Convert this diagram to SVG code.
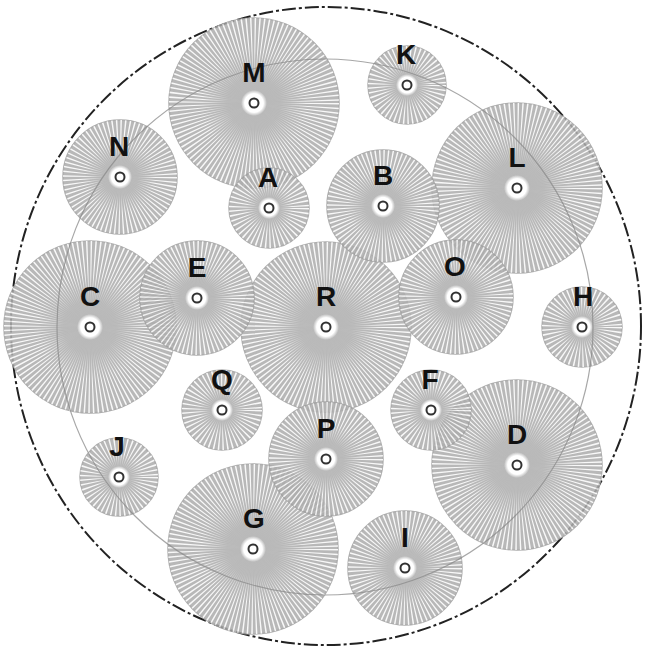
<svg xmlns="http://www.w3.org/2000/svg" width="646" height="647" viewBox="0 0 646 647">
<style>
.node{opacity:0.86}
.disk{fill:#adadad;stroke:#a0a0a0;stroke-width:1.5}
.rays{fill:none;stroke:#ffffff;stroke-opacity:0.9}
.r85{stroke-dasharray:0.83 1.6945}
.r86{stroke-dasharray:0.84 1.7125}
.r57{stroke-dasharray:0.85 1.7129}
.r56{stroke-dasharray:0.83 1.6915}
.r40{stroke-dasharray:0.93 1.8974}
.r39{stroke-dasharray:0.91 1.8546}
.hub{fill:url(#hubg)}
.ring{fill:none;stroke:#111;stroke-width:2}
.lbl{font-family:"Liberation Sans",Arial,Helvetica,sans-serif;font-weight:bold;font-size:28px;fill:#111;text-anchor:middle}
.outer{fill:none;stroke:#222;stroke-width:2;stroke-dasharray:14 3 3 3}
.inner{fill:none;stroke:#8a8a8a;stroke-width:1.2;opacity:0.75}
</style>
<defs>
<radialGradient id="hubg">
<stop offset="0" stop-color="#adadad" stop-opacity="1"/>
<stop offset="0.5" stop-color="#adadad" stop-opacity="0.9"/>
<stop offset="1" stop-color="#adadad" stop-opacity="0"/>
</radialGradient>
<radialGradient id="holeg">
<stop offset="0" stop-color="#fff" stop-opacity="1"/>
<stop offset="0.72" stop-color="#fff" stop-opacity="1"/>
<stop offset="1" stop-color="#fff" stop-opacity="0"/>
</radialGradient>
</defs>
<rect width="646" height="647" fill="#ffffff"/>
<g id="frame">
<ellipse class="outer" cx="326" cy="326" rx="315" ry="319"/>
</g>
<g id="node-M" class="node" transform="translate(254,103)">
<circle class="disk" r="85"/><circle class="rays r85" r="45" stroke-width="80"/><circle class="hub" r="52"/><circle r="13" fill="url(#holeg)"/><circle class="ring" r="4.5"/></g>
<g id="node-L" class="node" transform="translate(517,188)">
<circle class="disk" r="85"/><circle class="rays r85" r="45" stroke-width="80"/><circle class="hub" r="52"/><circle r="13" fill="url(#holeg)"/><circle class="ring" r="4.5"/></g>
<g id="node-C" class="node" transform="translate(90,327)">
<circle class="disk" r="86"/><circle class="rays r86" r="45.5" stroke-width="81"/><circle class="hub" r="52"/><circle r="13" fill="url(#holeg)"/><circle class="ring" r="4.5"/></g>
<g id="node-D" class="node" transform="translate(517,465)">
<circle class="disk" r="85"/><circle class="rays r85" r="45" stroke-width="80"/><circle class="hub" r="52"/><circle r="13" fill="url(#holeg)"/><circle class="ring" r="4.5"/></g>
<g id="node-G" class="node" transform="translate(253,549)">
<circle class="disk" r="85"/><circle class="rays r85" r="45" stroke-width="80"/><circle class="hub" r="52"/><circle r="13" fill="url(#holeg)"/><circle class="ring" r="4.5"/></g>
<g id="node-R" class="node" transform="translate(326,327)">
<circle class="disk" r="85"/><circle class="rays r85" r="45" stroke-width="80"/><circle class="hub" r="52"/><circle r="13" fill="url(#holeg)"/><circle class="ring" r="4.5"/></g>
<g id="node-N" class="node" transform="translate(120,177)">
<circle class="disk" r="57"/><circle class="rays r57" r="31" stroke-width="52"/><circle class="hub" r="35"/><circle r="12" fill="url(#holeg)"/><circle class="ring" r="4.5"/></g>
<g id="node-B" class="node" transform="translate(383,206)">
<circle class="disk" r="56"/><circle class="rays r56" r="30.5" stroke-width="51"/><circle class="hub" r="35"/><circle r="12" fill="url(#holeg)"/><circle class="ring" r="4.5"/></g>
<g id="node-E" class="node" transform="translate(197,298)">
<circle class="disk" r="57"/><circle class="rays r57" r="31" stroke-width="52"/><circle class="hub" r="35"/><circle r="12" fill="url(#holeg)"/><circle class="ring" r="4.5"/></g>
<g id="node-O" class="node" transform="translate(456,297)">
<circle class="disk" r="57"/><circle class="rays r57" r="31" stroke-width="52"/><circle class="hub" r="35"/><circle r="12" fill="url(#holeg)"/><circle class="ring" r="4.5"/></g>
<g id="node-P" class="node" transform="translate(326,459)">
<circle class="disk" r="57"/><circle class="rays r57" r="31" stroke-width="52"/><circle class="hub" r="35"/><circle r="12" fill="url(#holeg)"/><circle class="ring" r="4.5"/></g>
<g id="node-I" class="node" transform="translate(405,568)">
<circle class="disk" r="57"/><circle class="rays r57" r="31" stroke-width="52"/><circle class="hub" r="35"/><circle r="12" fill="url(#holeg)"/><circle class="ring" r="4.5"/></g>
<g id="node-K" class="node" transform="translate(407,85)">
<circle class="disk" r="39"/><circle class="rays r39" r="22" stroke-width="34"/><circle class="hub" r="23"/><circle r="11" fill="url(#holeg)"/><circle class="ring" r="4.5"/></g>
<g id="node-A" class="node" transform="translate(269,208)">
<circle class="disk" r="40"/><circle class="rays r40" r="22.5" stroke-width="35"/><circle class="hub" r="23"/><circle r="11" fill="url(#holeg)"/><circle class="ring" r="4.5"/></g>
<g id="node-H" class="node" transform="translate(582,327)">
<circle class="disk" r="40"/><circle class="rays r40" r="22.5" stroke-width="35"/><circle class="hub" r="23"/><circle r="11" fill="url(#holeg)"/><circle class="ring" r="4.5"/></g>
<g id="node-Q" class="node" transform="translate(222,410)">
<circle class="disk" r="40"/><circle class="rays r40" r="22.5" stroke-width="35"/><circle class="hub" r="23"/><circle r="11" fill="url(#holeg)"/><circle class="ring" r="4.5"/></g>
<g id="node-F" class="node" transform="translate(431,410)">
<circle class="disk" r="40"/><circle class="rays r40" r="22.5" stroke-width="35"/><circle class="hub" r="23"/><circle r="11" fill="url(#holeg)"/><circle class="ring" r="4.5"/></g>
<g id="node-J" class="node" transform="translate(119,477)">
<circle class="disk" r="39"/><circle class="rays r39" r="22" stroke-width="34"/><circle class="hub" r="23"/><circle r="11" fill="url(#holeg)"/><circle class="ring" r="4.5"/></g>
<g id="boundary">
<circle class="inner" cx="325" cy="327" r="268"/>
</g>
<g id="labels">
<text class="lbl" x="254" y="82">M</text>
<text class="lbl" x="517" y="167">L</text>
<text class="lbl" x="90" y="306">C</text>
<text class="lbl" x="517" y="444">D</text>
<text class="lbl" x="254" y="528">G</text>
<text class="lbl" x="326" y="306">R</text>
<text class="lbl" x="119" y="156">N</text>
<text class="lbl" x="383" y="185">B</text>
<text class="lbl" x="197" y="277">E</text>
<text class="lbl" x="455" y="276">O</text>
<text class="lbl" x="326" y="438">P</text>
<text class="lbl" x="405" y="547">I</text>
<text class="lbl" x="406" y="64">K</text>
<text class="lbl" x="268" y="187">A</text>
<text class="lbl" x="583" y="306">H</text>
<text class="lbl" x="222" y="389">Q</text>
<text class="lbl" x="430" y="389">F</text>
<text class="lbl" x="117" y="456">J</text>
</g>
</svg>
